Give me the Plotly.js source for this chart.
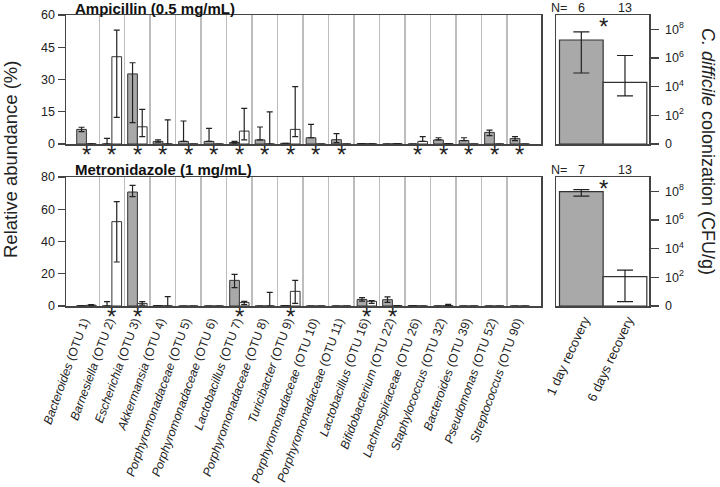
<!DOCTYPE html>
<html><head><meta charset="utf-8">
<script src="https://cdn.plot.ly/plotly-3.0.1.min.js"></script>
<style>body{margin:0;padding:0;background:#fff}#chart{width:720px;height:487px}</style>
</head><body><div id="chart"></div>
<script>
// ---- data ----
const genus = ["Bacteroides","Barnesiella","Escherichia","Akkermansia","Porphyromonadaceae","Porphyromonadaceae","Lactobacillus","Porphyromonadaceae","Turicibacter","Porphyromonadaceae","Porphyromonadaceae","Lactobacillus","Bifidobacterium","Lachnospiraceae","Staphylococcus","Bacteroides","Pseudomonas","Streptococcus"];
const otu = [1,2,3,4,5,6,7,8,9,10,11,16,22,26,32,39,52,90];

// Ampicillin, relative abundance (%)
const ampDay1      = [6.8, 0, 32.6, 1.2, 1.2, 1.2, 0.7, 1.9, 0.3, 2.9, 2.0, 0.2, 0, 0, 1.9, 1.6, 5.4, 2.5];
const ampDay1Plus  = [1.0, 2.6, 5.2, 0.7, 9.5, 6.1, 0.5, 6.0, 0, 6.2, 2.8, 0, 0, 0, 1.0, 1.3, 1.1, 0.9];
const ampDay1Minus = [1.0, 0, 22.7, 0.3, 0, 0, 0.3, 0, 0, 0, 1.4, 0, 0, 0, 0, 0, 1.5, 0.9];
const ampDay6      = [0.1, 40.6, 8.0, 0, 0, 0, 6.0, 0, 6.8, 0, 0, 0.1, 0.2, 1.2, 0.2, 0, 0, 0];
const ampDay6Plus  = [0, 12.4, 8.1, 11.2, 0, 0, 10.6, 14.9, 19.9, 0, 0, 0, 0, 2.2, 0, 0, 0, 0];
const ampDay6Minus = [0, 28.2, 4.6, 0, 0, 0, 4.1, 0, 3.4, 0, 0, 0, 0, 0, 0, 0, 0, 0];
const ampSig       = [1,1,1,1,1,1,1,1,1,1,1,0,0,1,1,1,1,1];

// Metronidazole, relative abundance (%)
const metDay1      = [0.2, 0, 70.7, 0.3, 0, 0, 15.9, 0, 0.3, 0, 0, 4.1, 3.9, 0.3, 0, 0, 0, 0];
const metDay1Plus  = [0, 2.7, 4.1, 0, 0, 0, 3.7, 0, 0, 0, 0, 1.1, 1.7, 0, 0, 0, 0, 0];
const metDay1Minus = [0, 0, 2.9, 0, 0, 0, 4.5, 0, 0, 0, 0, 1.1, 1.6, 0, 0, 0, 0, 0];
const metDay6      = [0.5, 52.3, 1.6, 0, 0, 0, 2.1, 0, 9.1, 0, 0, 2.9, 0.2, 0, 0.2, 0, 0, 0];
const metDay6Plus  = [0.3, 12.4, 1.1, 5.8, 0, 0, 0.8, 8.5, 6.8, 0, 0, 0.4, 0, 0, 0.8, 0, 0, 0];
const metDay6Minus = [0.3, 25.0, 1.1, 0, 0, 0, 1.2, 0, 7.5, 0, 0, 1.3, 0, 0, 0, 0, 0, 0];
const metSig       = [0,1,1,0,0,0,1,0,1,0,0,1,1,0,0,0,0,0];

// C. difficile colonization (CFU/g)
const recoveryLabels = ["1 day recovery", "6 days recovery"];
const ampCdiff   = [1.8e7, 2.0e4];
const ampCdiffHi = [6.6e7, 1.5e6];
const ampCdiffLo = [9.0e4, 2.3e3];
const ampN = [6, 13];
const metCdiff   = [9.5e7, 1.1e2];
const metCdiffHi = [1.3e8, 3.2e2];
const metCdiffLo = [4.6e7, 1];
const metN = [7, 13];

const yTicksAmp = [0, 15, 30, 45, 60];
const yTicksMet = [0, 20, 40, 60, 80];
const logTickVals = [1, 1e2, 1e4, 1e6, 1e8];
const logTickText = ["0", "10<sup>2</sup>", "10<sup>4</sup>", "10<sup>6</sup>", "10<sup>8</sup>"];

// ---- build ----
const W = 720, H = 487;
const px = v => v / W;
const py = v => 1 - v / H;
const FONT = "Liberation Sans, Arial, Helvetica, sans-serif";
const INK = "#222";
const FRAME = "#444";
const GREY = "#a9a9a9";

const idx = genus.map((_, i) => i);
const labels = genus.map((g, i) => "<i>" + g + "</i> (OTU " + otu[i] + ")");
const boundaries = idx.slice(0, -1).map(i => i + 0.5);

const BW = 0.38;
function errBar(plus, minus, w) {
  return {type: "data", symmetric: false, array: plus, arrayminus: minus,
          color: INK, thickness: 1.2, width: w};
}
function pair(xa, ya, d1, p1, m1, d6, p6, m6) {
  return [
    {type: "bar", x: idx, y: d1, xaxis: xa, yaxis: ya, offset: -BW, width: BW,
     marker: {color: GREY, line: {color: "#333", width: 1}},
     error_y: errBar(p1, m1, 3), hoverinfo: "skip", showlegend: false},
    {type: "bar", x: idx, y: d6, xaxis: xa, yaxis: ya, offset: 0, width: BW,
     marker: {color: "#fff", line: {color: "#333", width: 1}},
     error_y: errBar(p6, m6, 3), hoverinfo: "skip", showlegend: false}
  ];
}
function cdiffTrace(xa, ya, vals, hi, lo) {
  return {type: "bar", x: [0, 1], y: vals, xaxis: xa, yaxis: ya, base: 1,
          offset: -0.5, width: 1,
          marker: {color: [GREY, "#fff"], line: {color: "#333", width: 1.2}},
          error_y: {type: "data", symmetric: false,
                    array: vals.map((v, i) => hi[i] - v),
                    arrayminus: vals.map((v, i) => v - lo[i]),
                    color: INK, thickness: 1.2, width: 8},
          hoverinfo: "skip", showlegend: false};
}

const data = [
  ...pair("x", "y", ampDay1, ampDay1Plus, ampDay1Minus, ampDay6, ampDay6Plus, ampDay6Minus),
  ...pair("x2", "y2", metDay1, metDay1Plus, metDay1Minus, metDay6, metDay6Plus, metDay6Minus),
  cdiffTrace("x3", "y3", ampCdiff, ampCdiffHi, ampCdiffLo),
  cdiffTrace("x4", "y4", metCdiff, metCdiffHi, metCdiffLo)
];

const tickFont = {family: FONT, size: 12.5, color: INK};
function leftX(anchor, showLabels) {
  return {domain: [px(66), px(541)], anchor: anchor, range: [-0.8, 17.83],
          tickmode: "array", tickvals: idx, ticktext: labels, showticklabels: showLabels,
          tickangle: -70, ticklabelstandoff: 2, ticklabelshift: -3,
          tickfont: {family: FONT, size: 12.2, color: INK},
          ticks: "", showgrid: false, zeroline: false,
          showline: true, mirror: true, linecolor: FRAME, linewidth: 1.5,
          minor: {tickmode: "array", tickvals: boundaries, showgrid: true, gridcolor: "#bdbdbd", gridwidth: 1.3, ticks: ""}};
}
function leftY(anchor, top, bottom, maxv, ticks) {
  return {domain: [py(bottom), py(top)], anchor: anchor, range: [0, maxv],
          tickmode: "array", tickvals: ticks, ticks: "outside", ticklen: 7, tickwidth: 1.2,
          tickcolor: FRAME, tickfont: tickFont, showgrid: false, zeroline: false,
          showline: true, mirror: true, linecolor: FRAME, linewidth: 1.5};
}
function rightX(anchor, showLabels) {
  return {domain: [px(556), px(649)], anchor: anchor, range: [-0.58, 1.55],
          tickmode: "array", tickvals: [0, 1], ticktext: recoveryLabels, showticklabels: showLabels,
          tickangle: -65, ticklabelstandoff: 0, ticklabelshift: 3,
          tickfont: {family: FONT, size: 13, color: INK},
          ticks: "", showgrid: false, zeroline: false,
          showline: true, mirror: true, linecolor: FRAME, linewidth: 1.5};
}
function rightY(anchor, top, bottom) {
  return {domain: [py(bottom), py(top)], anchor: anchor, type: "log", range: [0, 9], side: "right",
          tickmode: "array", tickvals: logTickVals, ticktext: logTickText,
          ticks: "outside", ticklen: 8, tickwidth: 1.2, tickcolor: FRAME, tickfont: tickFont,
          ticklabelstandoff: 4,
          showgrid: false, zeroline: false,
          showline: true, mirror: true, linecolor: FRAME, linewidth: 1.5};
}

const annotations = [];
const STAR = {family: FONT, size: 24, color: INK};
function stars(xref, yref, sig) {
  sig.forEach((s, i) => {
    if (s) annotations.push({xref: xref, yref: yref + " domain", x: i, y: 0, yanchor: "top", yshift: 5,
      xanchor: "center", text: "*", showarrow: false, font: STAR});
  });
}
stars("x", "y", ampSig);
stars("x2", "y2", metSig);

function panelTitle(text, y) {
  annotations.push({xref: "paper", yref: "paper", x: px(73), y: py(y), xanchor: "left", yanchor: "middle",
    text: "<b>" + text + "</b>", showarrow: false, font: {family: FONT, size: 15, color: "#111"}});
}
panelTitle("Ampicillin (0.5 mg/mL)", 8);
panelTitle("Metronidazole (1 mg/mL)", 170);

function nLabels(xref, yref, ns) {
  annotations.push({xref: xref, yref: yref + " domain", x: -0.5, y: 1, xanchor: "center", yanchor: "bottom", yshift: -2,
    text: "N=", showarrow: false, font: {family: FONT, size: 12.5, color: INK}});
  ns.forEach((n, i) => annotations.push({xref: xref, yref: yref + " domain", x: i, y: 1, xanchor: "center", yanchor: "bottom", yshift: -2,
    text: String(n), showarrow: false, font: {family: FONT, size: 12.5, color: INK}}));
  annotations.push({xref: xref, yref: yref + " domain", x: 0.5, y: 1, xanchor: "center", yanchor: "top", yshift: 4,
    text: "*", showarrow: false, font: STAR});
}
nLabels("x3", "y3", ampN);
nLabels("x4", "y4", metN);

annotations.push({xref: "paper", yref: "paper", x: px(10), y: py(160), xanchor: "center", yanchor: "middle", textangle: -90,
  text: "Relative abundance (%)", showarrow: false, font: {family: FONT, size: 18.5, color: INK}});
annotations.push({xref: "paper", yref: "paper", x: px(708), y: py(151), xanchor: "center", yanchor: "middle", textangle: 90,
  text: "<i>C. difficile</i> colonization (CFU/g)", showarrow: false, font: {family: FONT, size: 18, color: INK}});

const layout = {
  width: W, height: H, margin: {l: 0, r: 0, t: 0, b: 0},
  paper_bgcolor: "#fff", plot_bgcolor: "#fff",
  barmode: "overlay", showlegend: false,
  font: {family: FONT, color: INK},
  xaxis: leftX("y", false),
  yaxis: leftY("x", 15, 144, 60, yTicksAmp),
  xaxis2: leftX("y2", true),
  yaxis2: leftY("x2", 177, 306, 80, yTicksMet),
  xaxis3: rightX("y3", false),
  yaxis3: rightY("x3", 15, 144),
  xaxis4: rightX("y4", true),
  yaxis4: rightY("x4", 177, 306),
  annotations: annotations
};

Plotly.newPlot("chart", data, layout, {staticPlot: true, displayModeBar: false});
</script></body></html>
